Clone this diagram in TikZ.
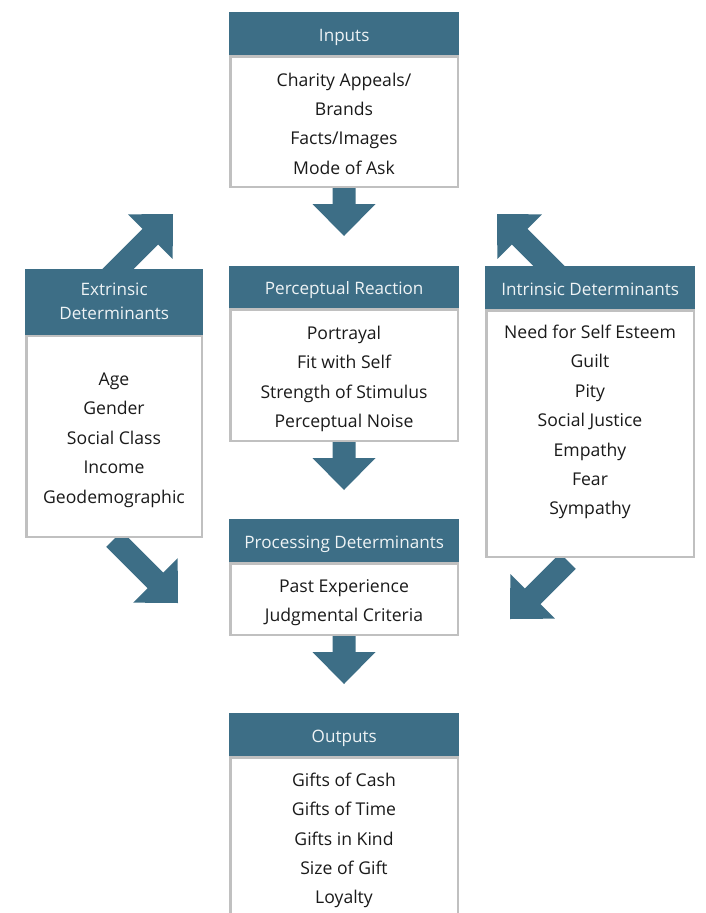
\documentclass[tikz,border=0pt]{standalone}
\usepackage{fontspec}
\setmainfont{Open Sans}
\usetikzlibrary{calc,backgrounds}
\definecolor{headblue}{HTML}{3D6E86}
\definecolor{framegray}{HTML}{C0C0C0}
\definecolor{inktext}{HTML}{1A1A1A}
\definecolor{headtext}{HTML}{EEF3F5}

% block arrow from #1 (tail) to #2 (tip), shaft half width #3
\newcommand\blockarrow[3]{%
  \coordinate (hb) at ($(#2)!32pt!(#1)$);
  \fill[headblue]
    ($(#1)!#3!90:(#2)$) -- ($(hb)!#3!90:(#2)$) -- ($(hb)!31.5pt!90:(#2)$)
    -- (#2)
    -- ($(hb)!31.5pt!-90:(#2)$) -- ($(hb)!#3!-90:(#2)$) -- ($(#1)!#3!-90:(#2)$)
    -- cycle;
}

\begin{document}
\begin{tikzpicture}[x=1pt,y=-1pt,
  head/.style={fill=headblue, draw=none, inner sep=0pt, text=headtext,
    font=\fontsize{17.1}{24}\selectfont, align=center, anchor=north west},
  headone/.style={head, text height=15.5pt, text depth=0pt},
  frame/.style={draw=framegray, line width=2.5pt, fill=white, inner sep=0pt,
    anchor=north west},
  body/.style={text=inktext, font=\fontsize{17.6}{29.4}\selectfont,
    align=center, inner sep=0pt}]
\useasboundingbox (0,0) rectangle (706,913);
\clip (0,0) rectangle (706,913);

% Inputs
\node[frame, minimum width=227.5pt, minimum height=130.5pt] (inF) at (229,55) {};
\node[headone, minimum width=230pt, minimum height=43pt] (inH) at (229,12) {Inputs};
\node[body] (inT) at (344,123.5) {Charity Appeals/\\Brands\\Facts/Images\\Mode of Ask};

% Perceptual Reaction
\node[frame, minimum width=227.5pt, minimum height=131.5pt] (peF) at (229,308) {};
\node[headone, minimum width=230pt, minimum height=42pt] (peH) at (229,266) {Perceptual Reaction};
\node[body] (peT) at (344,379) {Portrayal\\Fit with Self\\Strength of Stimulus\\Perceptual Noise};

% Processing Determinants
\node[frame, minimum width=227.5pt, minimum height=71.5pt] (prF) at (229,562) {};
\node[headone, minimum width=230pt, minimum height=43pt] (prH) at (229,519) {Processing Determinants};
\node[body] (prT) at (344,602.5) {Past Experience\\Judgmental Criteria};

% Outputs
\node[frame, minimum width=227.5pt, minimum height=180pt] (ouF) at (229,756) {};
\node[headone, minimum width=230pt, minimum height=43pt] (ouH) at (229,713) {Outputs};
\node[body] (ouT) at (344,840.5) {Gifts of Cash\\Gifts of Time\\Gifts in Kind\\Size of Gift\\Loyalty};

% Extrinsic Determinants
\node[frame, minimum width=175.5pt, minimum height=201.5pt] (exF) at (25,334) {};
\node[head, minimum width=178pt, minimum height=66pt] (exH) at (25,268.5) {Extrinsic\\Determinants};
\node[body] (exT) at (114,440) {Age\\Gender\\Social Class\\Income\\Geodemographic};

% Intrinsic Determinants
\node[frame, minimum width=207.5pt, minimum height=246.5pt] (itF) at (485,309) {};
\node[headone, minimum width=210pt, minimum height=43pt] (itH) at (485,266) {Intrinsic Determinants};
\node[body] (itT) at (590,422) {Need for Self Esteem\\Guilt\\Pity\\Social Justice\\Empathy\\Fear\\Sympathy};

% arrow ends
\coordinate (a1s) at (inF.south);
\coordinate (a1e) at ($(inF.south)+(0,48)$);
\coordinate (a2s) at (peF.south);
\coordinate (a2e) at ($(peF.south)+(0,48)$);
\coordinate (a3s) at (prF.south);
\coordinate (a3e) at ($(prF.south)+(0,48)$);
\coordinate (neS) at (108,279);
\coordinate (neE) at (173,214);
\coordinate (nwS) at (559,276);
\coordinate (nwE) at (497,214);
\coordinate (seS) at (114,539);
\coordinate (seE) at (178,603);
\coordinate (swS) at (568,561);
\coordinate (swE) at (510,619);

\begin{scope}[on background layer]
  \blockarrow{a1s}{a1e}{11.5pt}
  \blockarrow{a2s}{a2e}{11.5pt}
  \blockarrow{a3s}{a3e}{11.5pt}
  \blockarrow{neS}{neE}{11pt}
  \blockarrow{nwS}{nwE}{11pt}
  \blockarrow{seS}{seE}{11pt}
  \blockarrow{swS}{swE}{11pt}
\end{scope}
\end{tikzpicture}
\end{document}
